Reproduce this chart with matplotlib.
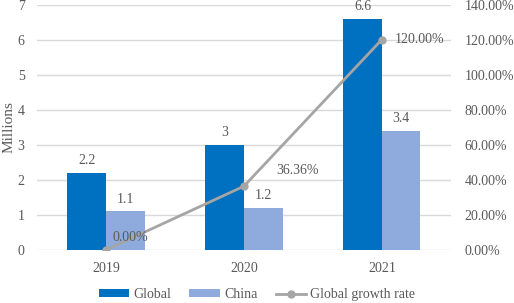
import numpy as np
import matplotlib.pyplot as plt
from matplotlib.ticker import FuncFormatter

# data
years = ['2019', '2020', '2021']
global_vals = [2.2, 3, 6.6]
china_vals = [1.1, 1.2, 3.4]
growth = [0.0, 0.3636, 1.20]
growth_labels = ['0.00%', '36.36%', '120.00%']

plt.rcParams['font.family'] = ['Liberation Serif', 'DejaVu Serif']
txt = '#595959'
fs = 10

fig = plt.figure(figsize=(5.14, 3.03), dpi=100)
ax = fig.add_axes([0.072, 0.175, 0.805, 0.81])
ax2 = ax.twinx()

x = np.arange(len(years))
w = 0.28
b1 = ax.bar(x - w / 2, global_vals, w, color='#0070C0', label='Global', zorder=2)
b2 = ax.bar(x + w / 2, china_vals, w, color='#8FAADC', label='China', zorder=2)

for rect, v in zip(b1, global_vals):
    ax.annotate(f'{v:g}', (rect.get_x() + rect.get_width() / 2, v), xytext=(0, 4),
                textcoords='offset points', ha='center', va='bottom', fontsize=fs, color=txt)
for rect, v in zip(b2, china_vals):
    ax.annotate(f'{v:g}', (rect.get_x() + rect.get_width() / 2, v), xytext=(0, 4),
                textcoords='offset points', ha='center', va='bottom', fontsize=fs, color=txt)

ln, = ax2.plot(x, growth, color='#A5A5A5', lw=2, marker='o', ms=5, label='Global growth rate', zorder=3)
offs = [(5, 9), (23, 11), (9, 0)]
for xi, g, lab, o in zip(x, growth, growth_labels, offs):
    ax2.annotate(lab, (xi, g), xytext=o, textcoords='offset points', ha='left', va='center',
                 fontsize=fs, color=txt)

ax.set_xlim(-0.5, 2.5)
ax.set_ylim(0, 7)
ax2.set_ylim(0, 1.4)
ax.set_xticks(x)
ax.set_xticklabels(years)
ax.set_yticks(range(8))
ax2.set_yticks(np.arange(0, 1.41, 0.2))
ax2.yaxis.set_major_formatter(FuncFormatter(lambda v, p: f'{v * 100:.2f}%'))

ax.grid(axis='y', color='#D9D9D9', lw=1, zorder=0)
ax.set_axisbelow(True)
for a in (ax, ax2):
    for s in a.spines.values():
        s.set_visible(False)
    a.tick_params(length=0, labelsize=fs, colors=txt)
ax.tick_params(axis='y', pad=9)
ax.tick_params(axis='x', pad=9)
ax2.tick_params(axis='y', pad=10)
ax.set_ylabel('Millions', fontsize=fs + 1, color=txt)
ax.yaxis.set_label_coords(-0.052, 0.5)

fig.legend(handles=[b1, b2, ln], loc='lower center', bbox_to_anchor=(0.5, -0.035), ncol=3,
           frameon=False, fontsize=fs, labelcolor=txt, handlelength=2.2, handleheight=0.5,
           columnspacing=1.3, handletextpad=0.3)

fig.savefig('out.png', dpi=100)
